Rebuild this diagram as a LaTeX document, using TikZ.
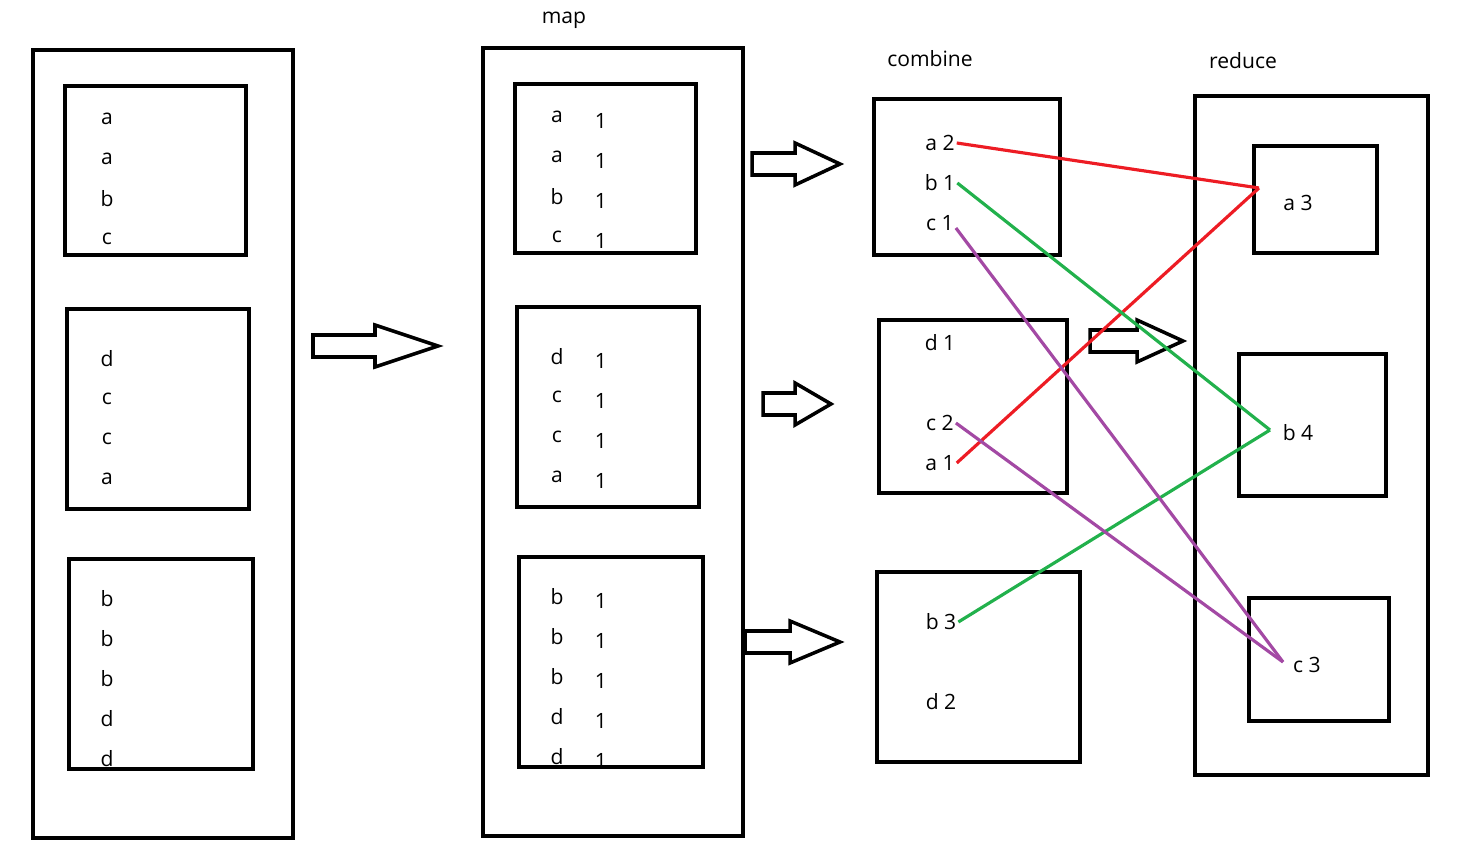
\documentclass[tikz,border=0pt]{standalone}
\usepackage{fontspec}
\setmainfont{Open Sans}
\usetikzlibrary{positioning}
\definecolor{lred}{RGB}{237,28,36}
\definecolor{lgreen}{RGB}{34,177,76}
\definecolor{lpurple}{RGB}{163,73,164}
% block arrow: start x, head x, tip x, y
\newcommand{\fatarrow}[4]{%
  \draw[box] (#1,#4-11) -- (#2,#4-11) -- (#2,#4-21) -- (#3,#4) -- (#2,#4+21) -- (#2,#4+11) -- (#1,#4+11) -- cycle;}
\begin{document}
\begin{tikzpicture}[x=0.02cm, y=-0.02cm]
	\tikzstyle{box}=[draw=black, line width=2pt]
	\tikzstyle{txt}=[font=\fontsize{12}{14}\selectfont, inner sep=1pt]
	\tikzstyle{link}=[line width=1.8pt]
	\useasboundingbox (0,0) rectangle (1457,857);
	% input splits
	\draw[box] (33,50) rectangle (293,838);
	\draw[box] (65,86) rectangle (246,255);
	\draw[box] (67,309) rectangle (249,509);
	\draw[box] (69,559) rectangle (253,769);
	\foreach \t/\y in {a/119,a/159,b/199,c/239,d/359,c/399,c/439,a/479,b/599,b/639,b/679,d/719,d/759}
		\node[txt] at (107,\y) {\t};
	\fatarrow{313}{375}{438}{346}
	% map
	\node[txt] (map) at (564,20) {map};
	\draw[box] (483,48) rectangle (743,836);
	\draw[box] (515,84) rectangle (696,253);
	\draw[box] (517,307) rectangle (699,507);
	\draw[box] (519,557) rectangle (703,767);
	\foreach \t/\y in {a/117,a/157,b/197,c/237,d/357,c/397,c/437,a/477,b/597,b/637,b/677,d/717,d/757}{
		\node[txt] at (557,\y) {\t};
		\node[txt] at (601,\y+4) {1};
	}
	\fatarrow{752}{795}{840}{164}
	\fatarrow{763}{795}{831}{404}
	\fatarrow{745}{790}{840}{642}
	% combine
	\node[txt] (combine) at (930,59) {combine};
	\draw[box] (874,99) rectangle (1060,255);
	\draw[box] (879,320) rectangle (1067,493);
	\draw[box] (877,572) rectangle (1080,762);
	\node[txt] (a2) at (940,143) {a 2};
	\node[txt] (b1) at (940,183) {b 1};
	\node[txt] (c1) at (940,223) {c 1};
	\node[txt] (d1) at (940,343) {d 1};
	\node[txt] (c2) at (940,423) {c 2};
	\node[txt] (a1) at (940,463) {a 1};
	\node[txt] (b3) at (941,622) {b 3};
	\node[txt] (d2) at (941,702) {d 2};
	\fatarrow{1090}{1137}{1183}{341}
	% reduce
	\node[txt] (reduce) at (1243,61) {reduce};
	\draw[box] (1195,96) rectangle (1428,775);
	\draw[box] (1254,146) rectangle (1377,253);
	\draw[box] (1239,354) rectangle (1386,496);
	\draw[box] (1249,598) rectangle (1389,721);
	\node[txt] (a3) at (1298,203) {a 3};
	\node[txt] (b4) at (1298,433) {b 4};
	\node[txt] (c3) at (1307,665) {c 3};
	\coordinate (ra) at (1259,188);
	\coordinate (rb) at (1270,430);
	\coordinate (rc) at (1283,662);
	\draw[link, lred] (a2.east) -- (ra);
	\draw[link, lred] (a1.east) -- (ra);
	\draw[link, lgreen] (b1.east) -- (rb);
	\draw[link, lgreen] (b3.east) -- (rb);
	\draw[link, lpurple] (c1.east) ++(0,5) -- (rc);
	\draw[link, lpurple] (c2.east) -- (rc);
\end{tikzpicture}
\end{document}
